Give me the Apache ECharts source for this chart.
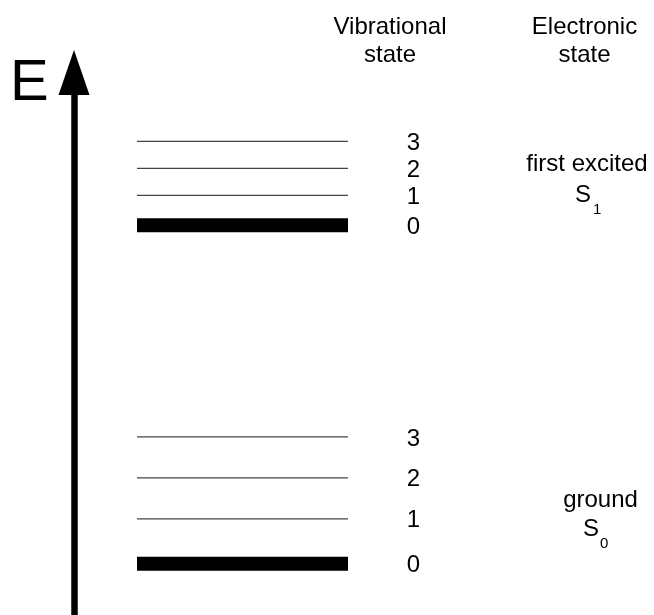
<!DOCTYPE html>
<html>
<head>
<meta charset="utf-8">
<script src="https://cdn.jsdelivr.net/npm/echarts@6/dist/echarts.min.js"></script>
<style>
  html, body { margin: 0; padding: 0; background: #fff; }
  #chart { width: 654px; height: 615px; }
</style>
</head>
<body>
<div id="chart"></div>
<script>
// ---- data (energies in arbitrary units) ----
const groundEnergy  = [0, 1.1, 2.1, 3.1];        // S0, vibrational levels 0..3
const excitedEnergy = [8.27, 9.0, 9.66, 10.32];  // S1, vibrational levels 0..3
const vibLabels     = ['0', '1', '2', '3'];
const headerVib     = ['Vibrational', 'state'];
const headerElec    = ['Electronic', 'state'];
const stateNames    = ['ground', 'first excited'];
const stateSymbol   = 'S';
const stateSubs     = ['0', '1'];
const axisName      = 'E';

const FONT = '"Liberation Sans", Arial, sans-serif';

const levelData = [];
[groundEnergy, excitedEnergy].forEach(function (arr) {
  arr.forEach(function (e, i) { levelData.push([0, e, i]); });
});

function txt(text, x, y, size, align) {
  return {
    type: 'text', x: x, y: y, silent: true,
    style: { text: text, font: size + 'px ' + FONT, fill: '#000',
             textAlign: align || 'center', textVerticalAlign: 'middle' }
  };
}

const chart = echarts.init(document.getElementById('chart'), null, { renderer: 'canvas' });
chart.setOption({
  animation: false,
  backgroundColor: '#fff',
  grid: { left: 74, right: 0, top: 72.5, bottom: 0, outerBoundsMode: 'none', containLabel: false },
  xAxis: { type: 'value', min: 0, max: 1, show: false },
  yAxis: {
    type: 'value', min: -1.25, max: 12,
    axisLine: {
      show: true, onZero: false,
      lineStyle: { color: '#000', width: 6.5 },
      symbol: ['none', 'triangle'], symbolSize: [31, 45]
    },
    axisTick: { show: false }, axisLabel: { show: false }, splitLine: { show: false }
  },
  graphic: [
    txt(axisName, 10, 84, 58, 'left'),
    txt(headerVib[0], 390, 27.6, 24),
    txt(headerVib[1], 390, 55.6, 24),
    txt(headerElec[0], 584.5, 27.6, 24),
    txt(headerElec[1], 584.5, 55.6, 24),
    txt(stateNames[1], 587, 164.6, 24),
    txt(stateSymbol, 583, 195.6, 24),
    txt(stateSubs[1], 593, 209.5, 15, 'left'),
    txt(stateNames[0], 600.5, 500.6, 24),
    txt(stateSymbol, 591, 529.6, 24),
    txt(stateSubs[0], 600, 543.4, 15, 'left')
  ],
  series: [{
    type: 'custom',
    coordinateSystem: 'cartesian2d',
    clip: false,
    silent: true,
    encode: { x: 0, y: 1 },
    data: levelData,
    renderItem: function (params, api) {
      const e = api.value(1), v = api.value(2);
      const y = api.coord([0, e])[1];
      const x0 = 137, x1 = 348;
      const children = [];
      if (v === 0) {
        children.push({ type: 'rect', shape: { x: x0, y: y - 7, width: x1 - x0, height: 14 },
                        style: { fill: '#000' } });
      } else {
        children.push({ type: 'line', shape: { x1: x0, y1: y, x2: x1, y2: y },
                        style: { stroke: '#444', lineWidth: 1.2 } });
      }
      children.push({ type: 'text', x: 413.5, y: y + 2,
        style: { text: vibLabels[v], font: '24px ' + FONT, fill: '#000',
                 textAlign: 'center', textVerticalAlign: 'middle' } });
      return { type: 'group', children: children };
    }
  }]
});
</script>
</body>
</html>
